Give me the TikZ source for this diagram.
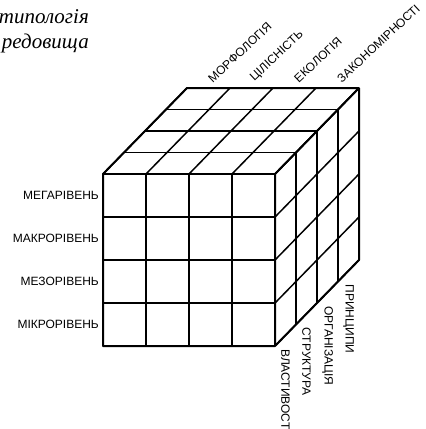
\documentclass[tikz,border=0pt]{standalone}
\usepackage{fontspec}
\setmainfont{Liberation Serif}
\setsansfont{Liberation Sans}

\tikzset{
  cell/.style={line width=1.5pt},
  edge/.style={line width=2pt, line join=round},
  level/.style={font=\sffamily\fontsize{12}{12}\selectfont, anchor=east, inner sep=1pt},
  aspect/.style={font=\sffamily\fontsize{12}{12}\selectfont, anchor=south west, rotate=43, inner sep=1pt},
  facet/.style={font=\sffamily\fontsize{12}{12}\selectfont, anchor=west, rotate=-90, inner sep=1pt},
  caption/.style={font=\itshape\fontsize{21}{21}\selectfont, anchor=east, inner sep=0pt}
}

\begin{document}
\begin{tikzpicture}[x=1pt,y=-1pt]
    \useasboundingbox (0,0) rectangle (426,429);

    % Caption in the upper left corner
    \node[caption] (capA) at (89,17) {типологія};
    \node[caption] (capB) at (89,43) {редовища};

    % Front face of the cube
    \foreach \i in {0,...,4} {
        \draw[cell] (103+43*\i,174) -- (103+43*\i,346);
        \draw[cell] (103,174+43*\i) -- (275,174+43*\i);
    }

    % Top face of the cube
    \foreach \k in {0,...,4} {
        \draw[cell] (103+21*\k,174-21.5*\k) -- (275+21*\k,174-21.5*\k);
    }
    \foreach \i in {0,...,4} {
        \draw[cell] (103+43*\i,174) -- (187+43*\i,88);
    }

    % Right face of the cube
    \foreach \k in {0,...,4} {
        \draw[cell] (275+21*\k,174-21.5*\k) -- (275+21*\k,346-21.5*\k);
    }
    \foreach \j in {0,...,4} {
        \draw[cell] (275,174+43*\j) -- (359,88+43*\j);
    }

    % Outline of the cube
    \draw[edge] (275,346) -- (103,346) -- (103,174) -- (187,88) -- (359,88)
        -- (359,260) -- (275,346) -- (275,174) -- (359,88);

    % Levels along the front face
    \foreach \t [count=\j from 0] in {МЕГАРІВЕНЬ, МАКРОРІВЕНЬ, МЕЗОРІВЕНЬ, МІКРОРІВЕНЬ} {
        \node[level] (lev\j) at (100,195.5+43*\j) {\t};
    }

    % Aspects along the top edge
    \foreach \t [count=\i from 0] in {МОРФОЛОГІЯ, ЦІЛІСНІСТЬ, ЕКОЛОГІЯ, ЗАКОНОМІРНОСТІ} {
        \node[aspect] (asp\i) at (213+43*\i,85) {\t};
    }

    % Facets along the lower right edge
    \foreach \t [count=\k from 0] in {ВЛАСТИВОСТІ, СТРУКТУРА, ОРГАНІЗАЦІЯ, ПРИНЦИПИ} {
        \node[facet] (fac\k) at (285.5+21*\k,348-21.5*\k) {\t};
    }

\end{tikzpicture}
\end{document}
